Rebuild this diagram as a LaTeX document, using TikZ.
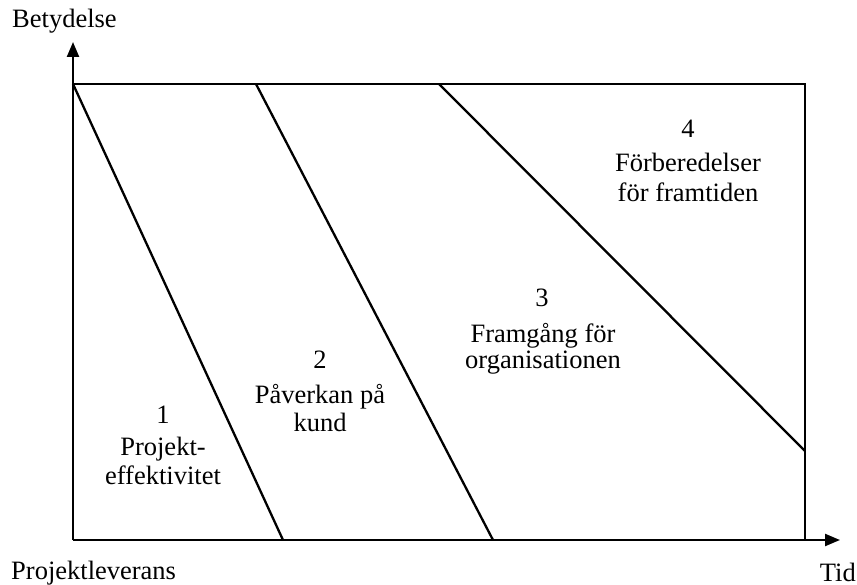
\documentclass[tikz,border=0pt]{standalone}
\usepackage{fontspec}
\setmainfont{Liberation Serif}
\usetikzlibrary{arrows.meta}
\begin{document}
\begin{tikzpicture}[x=1pt,y=-1pt,
  frame/.style={line width=2.3pt,black},
  axis/.style={line width=2.3pt,black,-{Triangle[length=15pt,width=12pt]}},
  lbl/.style={anchor=base,inner sep=0pt,font=\fontsize{26.5}{30}\selectfont},
  lblw/.style={anchor=base west,inner sep=0pt,font=\fontsize{26.5}{30}\selectfont},
  lble/.style={anchor=base east,inner sep=0pt,font=\fontsize{26.5}{30}\selectfont}]
\useasboundingbox (0,0) rectangle (857,585);
% corners of the chart area
\coordinate (O) at (73,540);
\coordinate (TL) at (73,84);
\coordinate (TR) at (805,84);
\coordinate (BR) at (805,540);
\coordinate (Ytip) at (73,42);
\coordinate (Xtip) at (840,540);
% ends of the dividing lines
\coordinate (a1) at (73,84);   \coordinate (b1) at (283,540);
\coordinate (a2) at (256,84);  \coordinate (b2) at (493,540);
\coordinate (a3) at (439,84);  \coordinate (b3) at (805,451);
% frame and axes
\draw[frame] (TL) -- (TR) -- (BR);
\draw[axis] (O) -- (Ytip);
\draw[axis] (O) -- (Xtip);
% phase boundaries
\draw[frame] (a1) -- (b1);
\draw[frame] (a2) -- (b2);
\draw[frame] (a3) -- (b3);
% axis labels
\node[lblw] (ylab) at (12,28) {Betydelse};
\node[lblw] (olab) at (11,579) {Projektleverans};
\node[lble] (xlab) at (856,581) {Tid};
% phase 1
\node[lbl] (n1) at (163,423) {1};
\node[lbl] (p1a) at (163,455) {Projekt-};
\node[lbl] (p1b) at (163,484) {effektivitet};
% phase 2
\node[lbl] (n2) at (320,368) {2};
\node[lbl] (p2a) at (320,403) {Påverkan på};
\node[lbl] (p2b) at (320,431) {kund};
% phase 3
\node[lbl] (n3) at (542,307) {3};
\node[lbl] (p3a) at (543,342) {Framgång för};
\node[lbl] (p3b) at (543,369) {organisationen};
% phase 4
\node[lbl] (n4) at (688,138) {4};
\node[lbl] (p4a) at (688,172) {Förberedelser};
\node[lbl] (p4b) at (688,202) {för framtiden};
\end{tikzpicture}
\end{document}
